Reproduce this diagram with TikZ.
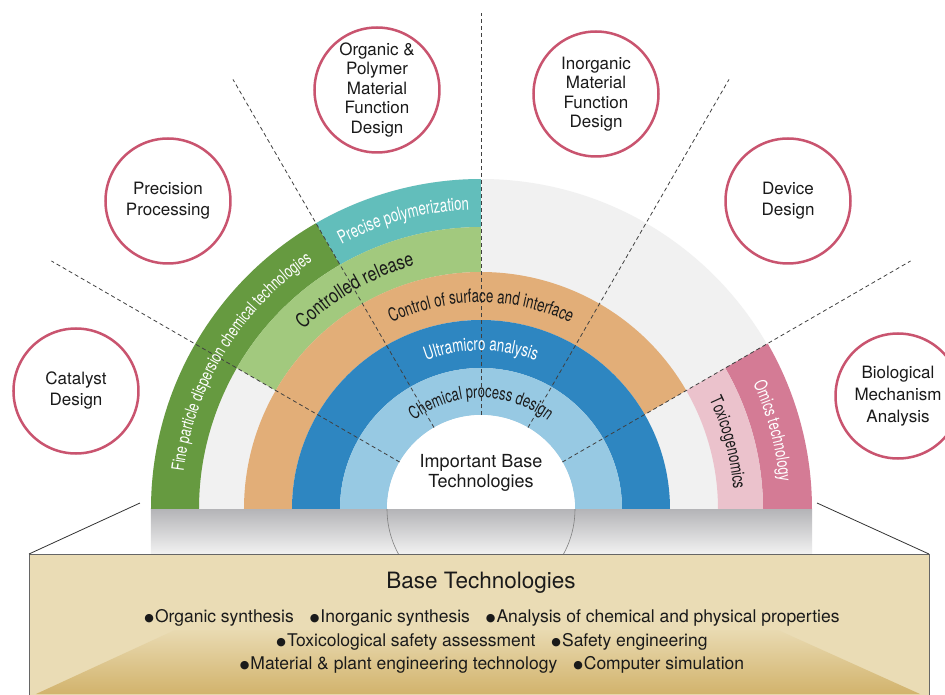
\documentclass[tikz,border=0pt]{standalone}
\usepackage{fontspec}
\setmainfont{TeX Gyre Heros}
\newfontfamily\arcfont[FakeStretch=0.72]{TeX Gyre Heros}
\newfontfamily\relfont[FakeStretch=0.8]{TeX Gyre Heros}
\newfontfamily\symfont{DejaVu Sans}
\usetikzlibrary{decorations.text}
\definecolor{bggrey}{HTML}{F1F1F1}
\definecolor{ringlblue}{HTML}{97C9E3}
\definecolor{ringdblue}{HTML}{2E86C1}
\definecolor{ringorange}{HTML}{E2AE78}
\definecolor{ringlgreen}{HTML}{A2C97E}
\definecolor{ringdgreen}{HTML}{669A40}
\definecolor{ringteal}{HTML}{62BEBB}
\definecolor{ringlpink}{HTML}{EBC2CC}
\definecolor{ringdpink}{HTML}{D47B95}
\definecolor{circred}{HTML}{C9546F}
\definecolor{boxtan}{HTML}{EADCB5}
\definecolor{boxgold}{HTML}{D2B36C}
\definecolor{bandtop}{HTML}{B4B4B7}
\definecolor{bandbot}{HTML}{F3F3F3}
\definecolor{inktext}{HTML}{1A1A1A}
\newcommand\ringsector[5]{%
  \fill[#1] (#2:#4) arc[start angle=#2,end angle=#3,radius=#4] -- (#3:#5) arc[start angle=#3,end angle=#2,radius=#5] -- cycle;}
\newcommand\bul{\raisebox{0.8pt}{\symfont\fontsize{11}{11}\selectfont ●}\hspace{1pt}}
\tikzset{
  goal/.style={circle, draw=circred, line width=2.5pt, minimum size=125pt, inner sep=0pt, align=center, text=inktext, font=\fontsize{17}{21}\selectfont},
  dashline/.style={draw=black!75, line width=0.8pt, dash pattern=on 4pt off 3pt},
  thinline/.style={draw=black!80, line width=0.8pt},
  bulletline/.style={text=inktext, font=\fontsize{17.5}{17.5}\selectfont},
}
\begin{document}
\begin{tikzpicture}[x=1pt,y=1pt]
\useasboundingbox (-481,-185) rectangle (464,509);
\fill[white] (-481,-185) rectangle (464,509);
% background semicircle
\fill[bggrey] (0:330) arc[start angle=0,end angle=180,radius=330] -- cycle;
% rings
\ringsector{ringdgreen}{120}{180}{282}{330}
\ringsector{ringteal}{90}{120}{282}{330}
\ringsector{ringlgreen}{90}{150}{237}{282}
\ringsector{ringdpink}{0}{30}{282}{331}
\ringsector{ringlpink}{0}{30}{237}{282}
\ringsector{ringorange}{30}{180}{189}{237}
\ringsector{ringdblue}{0}{180}{141}{189}
\ringsector{ringlblue}{0}{180}{94}{141}
\fill[white] (0:94) arc[start angle=0,end angle=180,radius=94] -- cycle;
% dashed radial lines
\foreach \a in {30,60,90,120,150} {
  \coordinate (in\a) at (\a:94);
  \coordinate (out\a) at (\a:496);
  \draw[dashline] (in\a) -- (out\a);
}
% arc texts
\path[decorate,decoration={text along path,text align=center,text={|\arcfont\fontsize{17.9}{17.9}\selectfont\color{inktext}|Chemical process design}}] (170:111.1) arc[start angle=170,end angle=10,radius=111.1];
\path[decorate,decoration={text along path,text align=center,text={|\arcfont\fontsize{18.4}{18.4}\selectfont\color{white}|Ultramicro analysis}}] (170:158.4) arc[start angle=170,end angle=10,radius=158.4];
\path[decorate,decoration={text along path,text align=center,text={|\arcfont\fontsize{18.4}{18.4}\selectfont\color{inktext}|Control of surface and interface}}] (170:206.4) arc[start angle=170,end angle=10,radius=206.4];
\path[decorate,decoration={text along path,text align=center,text={|\relfont\fontsize{20}{20}\selectfont\color{inktext}|Controlled release}}] (165:252.3) arc[start angle=165,end angle=75,radius=252.3];
\path[decorate,decoration={text along path,text align=center,text={|\arcfont\fontsize{18.4}{18.4}\selectfont\color{white}|Precise polymerization}}] (135:299.4) arc[start angle=135,end angle=75,radius=299.4];
\path[decorate,decoration={text along path,text align=center,text={|\arcfont\fontsize{17.3}{17.3}\selectfont\color{white}|Fine particle dispersion chemical technologies}}] (178:299.8) arc[start angle=178,end angle=119,radius=299.8];
\path[decorate,decoration={text along path,text align=center,text={|\arcfont\fontsize{17.9}{17.9}\selectfont\color{inktext}|Toxicogenomics}}] (29.5:253.1) arc[start angle=29.5,end angle=0.5,radius=253.1];
\path[decorate,decoration={text along path,text align=center,text={|\arcfont\fontsize{17.9}{17.9}\selectfont\color{white}|Omics technology}}] (29.5:299.6) arc[start angle=29.5,end angle=0.5,radius=299.6];
% centre label
\node[align=center, text=inktext, font=\fontsize{18}{20}\selectfont] (core) at (0,36) {Important Base\\Technologies};
% grey band
\shade[top color=bandtop, bottom color=bandbot] (-330,0) rectangle (331,-46);
\begin{scope}
  \clip (-330,0) rectangle (331,-46);
  \draw[gray, line width=0.6pt] (0,0) circle[radius=94];
\end{scope}
% base box
\draw[draw=black!60, line width=0.8pt, fill=boxtan] (-452,-45) rectangle (448,-200);
\shade[top color=boxtan!95!boxgold, bottom color=boxgold] (-306,-121) -- (297,-121) -- (439,-185) -- (-445,-185) -- cycle;
\coordinate (tl) at (-341,6);
\coordinate (bl) at (-452,-45);
\coordinate (tr) at (336,6);
\coordinate (br) at (448,-45);
\draw[thinline] (tl) -- (bl);
\draw[thinline] (tr) -- (br);
\node[text=inktext, font=\fontsize{22.5}{22.5}\selectfont] (bt) at (0,-74) {Base Technologies};
\node[bulletline] (l1) at (11,-109) {\bul Organic synthesis\hspace{16pt}\bul Inorganic synthesis\hspace{16pt}\bul Analysis of chemical and physical properties};
\node[bulletline] (l2) at (11,-133) {\bul Toxicological safety assessment\hspace{16pt}\bul Safety engineering};
\node[bulletline] (l3) at (11,-156) {\bul Material \& plant engineering technology\hspace{16pt}\bul Computer simulation};
% application circles
\node[goal] (cat) at (-405,118) {Catalyst\\Design};
\node[goal] (prec) at (-313,308) {Precision\\Processing};
\node[goal, font=\fontsize{17}{19.5}\selectfont] (org) at (-104,419) {Organic \&\\Polymer\\Material\\Function\\Design};
\node[goal, font=\fontsize{17}{19.5}\selectfont] (inorg) at (115,415) {Inorganic\\Material\\Function\\Design};
\node[goal] (dev) at (307,308) {Device\\Design};
\node[goal, font=\fontsize{17}{22}\selectfont] (bio) at (417,113) {Biological\\Mechanism\\Analysis};
\end{tikzpicture}
\end{document}
